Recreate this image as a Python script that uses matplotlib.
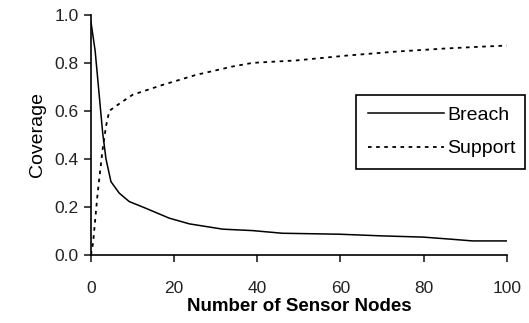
import matplotlib.pyplot as plt

# values
breach_x = [0, 1, 2.8, 3.6, 4.8, 6.8, 9.2, 13.2, 18.8, 23.7, 31.7, 38.9, 46, 59.7, 70, 79.8, 86, 91.8, 100]
breach_y = [0.97, 0.85, 0.51, 0.40, 0.305, 0.257, 0.222, 0.194, 0.153, 0.129, 0.107, 0.101, 0.09, 0.086, 0.079, 0.074, 0.066, 0.058, 0.058]

support_x = [0, 0.5, 1.6, 2.8, 3.6, 4.4, 6, 10, 17.2, 25.3, 34.1, 38.9, 49.3, 61.3, 73.4, 85.4, 94.6, 100]
support_y = [0.0, 0.05, 0.257, 0.44, 0.535, 0.6, 0.62, 0.667, 0.708, 0.75, 0.785, 0.80, 0.81, 0.83, 0.847, 0.86, 0.868, 0.872]

x_ticks = [0, 20, 40, 60, 80, 100]
y_ticks = [0.0, 0.2, 0.4, 0.6, 0.8, 1.0]

plt.rcParams['font.family'] = ['Liberation Sans', 'DejaVu Sans']

fig = plt.figure(figsize=(5.29, 3.23), dpi=100)
ax = fig.add_axes([0.172, 0.211, 0.786, 0.743])

ax.plot(breach_x, breach_y, c="black", linewidth=1.1, label="Breach")
ax.plot(support_x, support_y, c="black", linewidth=1.3, linestyle=(0, (2, 2.5)), label="Support")

ax.set_xlim(0, 100)
ax.set_ylim(0, 1.0)
ax.set_xticks(x_ticks)
ax.set_yticks(y_ticks)
ax.set_yticklabels(["%.1f" % v for v in y_ticks])
ax.spines["top"].set_visible(False)
ax.spines["right"].set_visible(False)
ax.spines["left"].set_linewidth(1.2)
ax.spines["bottom"].set_linewidth(1.2)
ax.tick_params("both", direction="out", length=5, width=1.2, labelsize=12.5, colors="#222222")
ax.tick_params("x", pad=14)
ax.tick_params("y", pad=4)

ax.set_xlabel("Number of Sensor Nodes", size=13.5, fontweight="bold", labelpad=1)
ax.set_ylabel("Coverage", size=14, labelpad=6)

leg = ax.legend(loc="upper left", bbox_to_anchor=(356 / 529, 1 - 172 / 323, 169 / 529, 77 / 323),
                bbox_transform=fig.transFigure, mode="expand", fontsize=14, frameon=True,
                fancybox=False, framealpha=1, handlelength=3.9, handletextpad=0.2, borderpad=0.6,
                labelspacing=0.8, borderaxespad=0)
leg.get_frame().set_edgecolor("black")
leg.get_frame().set_linewidth(1.2)

fig.savefig("out.png", dpi=100)
